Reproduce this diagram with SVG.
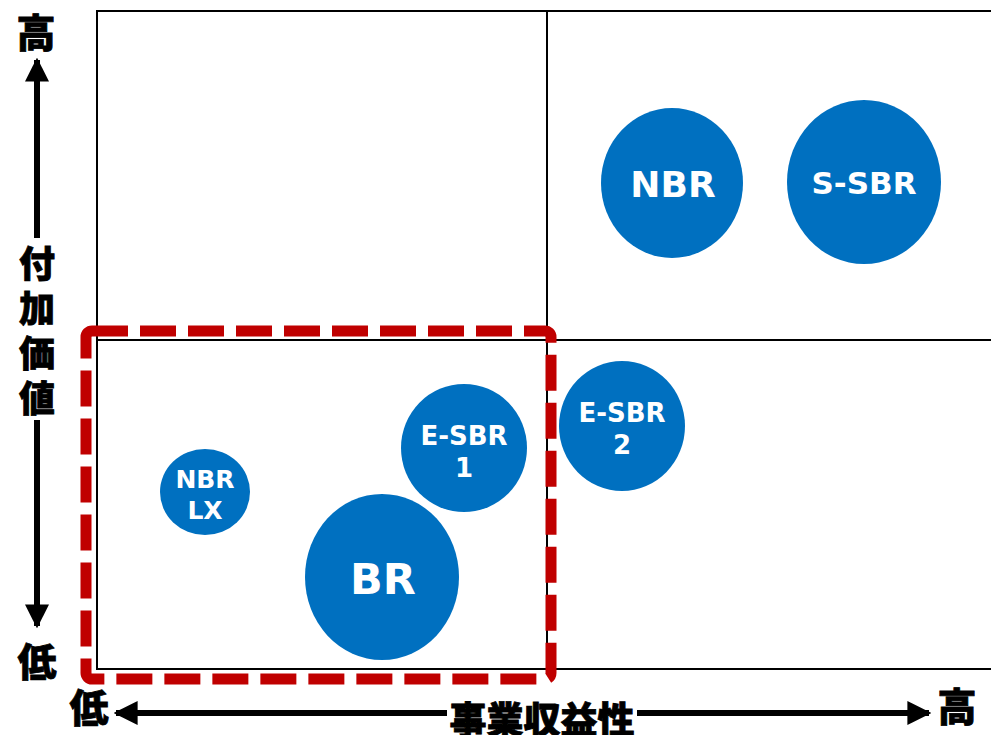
<svg xmlns="http://www.w3.org/2000/svg" width="991" height="735" viewBox="0 0 991 735">
<style>
.grid{fill:none;stroke:#000;stroke-width:2}
.bub{fill:#0070C0}
.lbl{fill:#fff;font-family:"DejaVu Sans","Noto Sans",sans-serif;font-weight:bold;text-anchor:middle}
.ax{fill:#000;font-family:"Noto Sans CJK JP",sans-serif;font-weight:900;text-anchor:middle;stroke:#000;stroke-width:0.8}
.arr{stroke:#000;stroke-width:6;fill:none}
</style>
<defs>
<marker id="ah" viewBox="0 0 10 10" refX="9" refY="5" markerWidth="4" markerHeight="4" orient="auto" markerUnits="strokeWidth">
<path d="M0,0 L10,5 L0,10 Z" fill="#000"/>
</marker>
</defs>
<rect width="991" height="735" fill="#fff"/>
<g id="grid">
<rect class="grid" x="97" y="11" width="900" height="658"/>
<line class="grid" x1="547" y1="11" x2="547" y2="669"/>
<line class="grid" x1="97" y1="340" x2="997" y2="340"/>
</g>
<g id="highlight">
<rect x="86" y="331" width="465" height="348" rx="6" fill="none" stroke="#C00000" stroke-width="11" stroke-dasharray="36 12"/>
</g>
<g id="connectors">
<line class="arr" x1="37" y1="238" x2="37" y2="60" marker-end="url(#ah)"/>
<line class="arr" x1="37" y1="420" x2="37" y2="626" marker-end="url(#ah)"/>
<line class="arr" x1="447" y1="713" x2="116" y2="713" marker-end="url(#ah)"/>
<line class="arr" x1="637" y1="713" x2="929" y2="713" marker-end="url(#ah)"/>
</g>
<g id="axis-y">
<text class="ax" x="36" y="47" font-size="39">高</text>
<text class="ax" x="37" y="277" font-size="36">付</text>
<text class="ax" x="37" y="322" font-size="36">加</text>
<text class="ax" x="37" y="367" font-size="36">価</text>
<text class="ax" x="37" y="412" font-size="36">値</text>
<text class="ax" x="37" y="676" font-size="39">低</text>
</g>
<g id="axis-x">
<text class="ax" x="89" y="722" font-size="39">低</text>
<text class="ax" x="542" y="734" font-size="37">事業収益性</text>
<text class="ax" x="957" y="721" font-size="39">高</text>
</g>
<g id="NBR">
<ellipse class="bub" cx="672" cy="183" rx="71" ry="75"/>
<text class="lbl" x="673" y="197" font-size="36">NBR</text>
</g>
<g id="S-SBR">
<ellipse class="bub" cx="864" cy="182" rx="77" ry="82"/>
<text class="lbl" x="864" y="194" font-size="31">S-SBR</text>
</g>
<g id="E-SBR2">
<ellipse class="bub" cx="622" cy="426" rx="63" ry="65"/>
<text class="lbl" x="622" y="422" font-size="26">E-SBR</text>
<text class="lbl" x="622" y="454" font-size="26">2</text>
</g>
<g id="E-SBR1">
<ellipse class="bub" cx="464" cy="448" rx="63" ry="64"/>
<text class="lbl" x="464" y="445" font-size="26">E-SBR</text>
<text class="lbl" x="464" y="477" font-size="26">1</text>
</g>
<g id="NBRLX">
<ellipse class="bub" cx="205" cy="492" rx="45" ry="43"/>
<text class="lbl" x="205" y="488" font-size="25">NBR</text>
<text class="lbl" x="205" y="519" font-size="25">LX</text>
</g>
<g id="BR">
<ellipse class="bub" cx="382" cy="577" rx="77" ry="83"/>
<text class="lbl" x="383" y="594" font-size="43">BR</text>
</g>
</svg>
